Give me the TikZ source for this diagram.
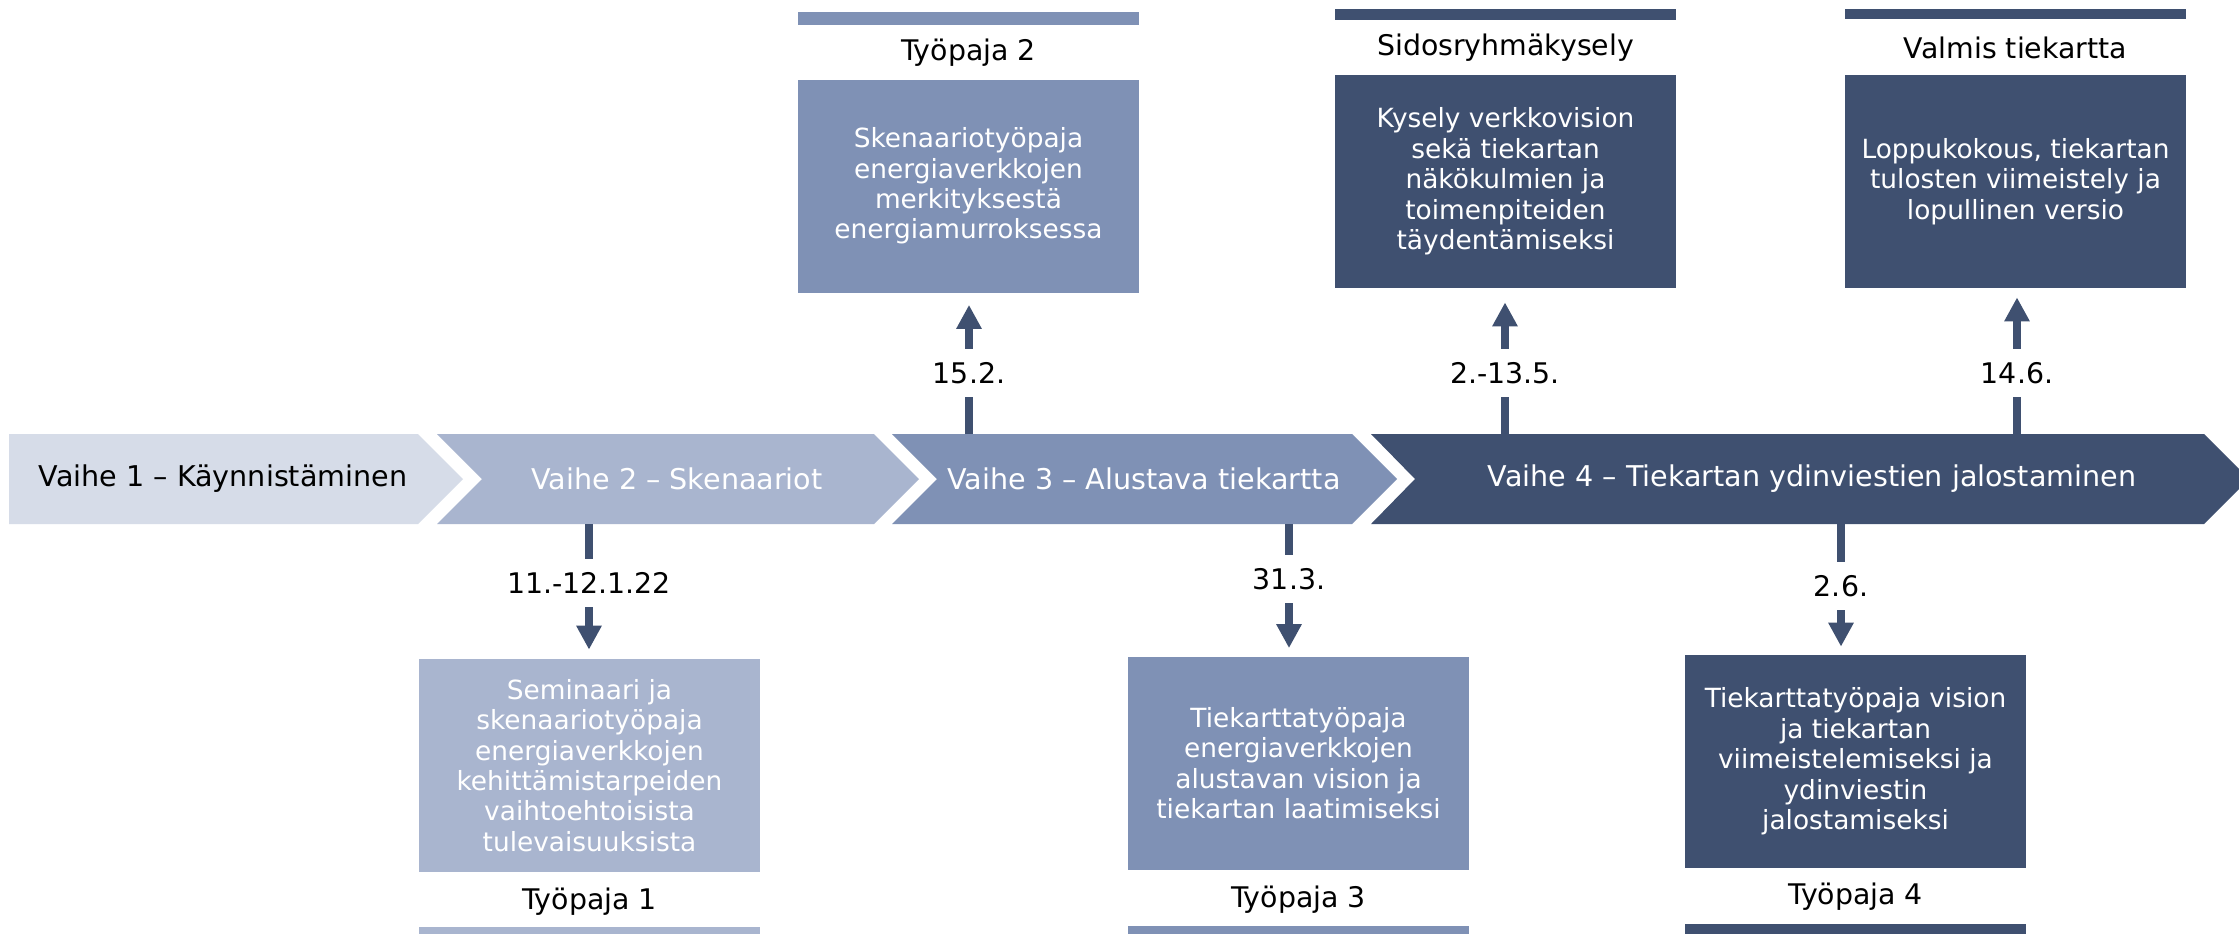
\documentclass[tikz,border=0pt]{standalone}
\usepackage{fontspec}
\setmainfont{DejaVu Sans}
\usetikzlibrary{arrows.meta}
\definecolor{cA}{HTML}{D6DCE8}
\definecolor{cB}{HTML}{A9B5CF}
\definecolor{cC}{HTML}{7F91B5}
\definecolor{cD}{HTML}{3F5070}
\begin{document}
\begin{tikzpicture}[x=0.5pt,y=-0.5pt,
  chevtext/.style={inner sep=0pt,font=\fontsize{14.3}{17}\selectfont},
  datel/.style={inner sep=0pt,minimum height=24pt,font=\fontsize{14.2}{17}\selectfont},
  ttl/.style={inner sep=0pt,font=\fontsize{14.2}{17}\selectfont},
  wbox/.style={inner sep=0pt,minimum width=170.5pt,minimum height=106.5pt,align=center,text=white,font=\fontsize{13.2}{15.2}\selectfont},
  conn/.style={draw=cD,line width=4pt},
  arr/.style={conn,-{Triangle[width=12pt,length=12pt]}}]
\useasboundingbox (0,0) rectangle (2239,933);
\fill[white] (0,0) rectangle (2239,933);
% chevrons
\fill[cA] (9,434) -- (418,434) -- (463,479) -- (418,524) -- (9,524) -- cycle;
\fill[cB] (437,434) -- (874,434) -- (919,479) -- (874,524) -- (437,524) -- (482,479) -- cycle;
\fill[cC] (892,434) -- (1352,434) -- (1397,479) -- (1352,524) -- (892,524) -- (937,479) -- cycle;
\fill[cD] (1371,434) -- (2204,434) -- (2249,479) -- (2204,524) -- (1371,524) -- (1415,479) -- cycle;
\node[chevtext] (v1) at (223,479) {Vaihe 1 – Käynnistäminen};
\node[chevtext,text=white] (v2) at (677,479) {Vaihe 2 – Skenaariot};
\node[chevtext,text=white] (v3) at (1144,479) {Vaihe 3 – Alustava tiekartta};
\node[chevtext,text=white] (v4) at (1812,479) {Vaihe 4 – Tiekartan ydinviestien jalostaminen};
% top bars
\fill[cC] (798,12) rectangle (1139,25);
\fill[cD] (1335,9) rectangle (1676,20);
\fill[cD] (1845,9) rectangle (2186,19);
% bottom bars
\fill[cB] (419,927) rectangle (760,945);
\fill[cC] (1128,926) rectangle (1469,945);
\fill[cD] (1685,924) rectangle (2026,945);
% titles
\node[ttl] (t2) at (968.5,53) {Työpaja 2};
\node[ttl] (tS) at (1505.5,48) {Sidosryhmäkysely};
\node[ttl] (tV) at (2015.5,48) {Valmis tiekartta};
\node[ttl] (t1) at (589.5,902) {Työpaja 1};
\node[ttl] (t3) at (1298.5,900) {Työpaja 3};
\node[ttl] (t4) at (1855.5,897) {Työpaja 4};
% boxes
\node[wbox,fill=cC] (b2) at (968.5,186) {Skenaariotyöpaja\\energiaverkkojen\\merkityksestä\\energiamurroksessa};
\node[wbox,fill=cD] (bS) at (1505.5,181.5) {Kysely verkkovision\\sekä tiekartan\\näkökulmien ja\\toimenpiteiden\\täydentämiseksi};
\node[wbox,fill=cD] (bV) at (2015.5,181.5) {Loppukokous, tiekartan\\tulosten viimeistely ja\\lopullinen versio};
\node[wbox,fill=cB] (b1) at (589.5,765.5) {Seminaari ja\\skenaariotyöpaja\\energiaverkkojen\\kehittämistarpeiden\\vaihtoehtoisista\\tulevaisuuksista};
\node[wbox,fill=cC] (b3) at (1298.5,763) {Tiekarttatyöpaja\\energiaverkkojen\\alustavan vision ja\\tiekartan laatimiseksi};
\node[wbox,fill=cD] (b4) at (1855.5,761.5) {Tiekarttatyöpaja vision\\ja tiekartan\\viimeistelemiseksi ja\\ydinviestin\\jalostamiseksi};
% dates
\node[datel] (d2) at (969,373) {15.2.};
\node[datel] (dS) at (1505,373) {2.-13.5.};
\node[datel] (dV) at (2017,373) {14.6.};
\node[datel] (d1) at (589,583) {11.-12.1.22};
\node[datel] (d3) at (1289,579) {31.3.};
\node[datel] (d4) at (1841,586) {2.6.};
% anchor points on the band
\coordinate (s2) at (969,434);
\coordinate (sS) at (1505,434);
\coordinate (sV) at (2017,434);
\coordinate (s1) at (589,524);
\coordinate (s3) at (1289,524);
\coordinate (s4) at (1841,524);
% connectors
\draw[conn] (s2) -- (d2.south);
\draw[conn] (sS) -- (dS.south);
\draw[conn] (sV) -- (dV.south);
\draw[arr,shorten >=6pt] (d2.north) -- (d2.north |- b2.south);
\draw[arr,shorten >=7pt] (dS.north) -- (dS.north |- bS.south);
\draw[arr,shorten >=4.5pt] (dV.north) -- (dV.north |- bV.south);
\draw[conn] (s1) -- (d1.north);
\draw[conn] (s3) -- (d3.north);
\draw[conn] (s4) -- (d4.north);
\draw[arr,shorten >=4.5pt] (d1.south) -- (d1.south |- b1.north);
\draw[arr,shorten >=4pt] (d3.south) -- (d3.south |- b3.north);
\draw[arr,shorten >=4pt] (d4.south) -- (d4.south |- b4.north);
\end{tikzpicture}
\end{document}
